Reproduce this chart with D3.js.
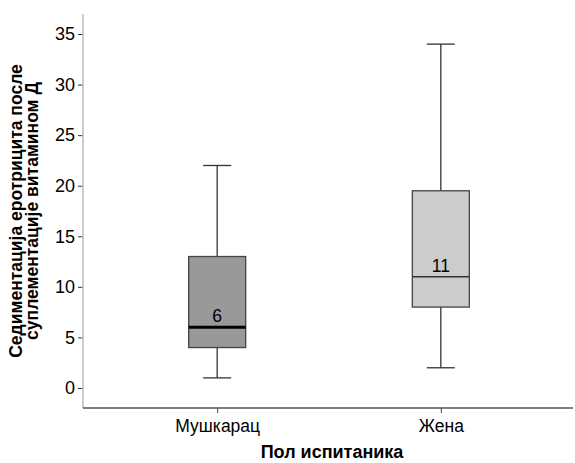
<!DOCTYPE html>
<html>
<head>
<meta charset="utf-8">
<script src="https://cdn.jsdelivr.net/npm/d3@7"></script>
<style>
  html, body { margin: 0; padding: 0; background: #fff; }
  svg { display: block; font-family: "Liberation Sans", Arial, sans-serif; }
</style>
</head>
<body>
<svg id="chart" width="575" height="463"></svg>
<script>
// Groups and five-number summaries
const categories = ["Мушкарац", "Жена"];
const whiskerLow = [1, 2];
const q1 = [4, 8];
const medians = [6, 11];
const q3 = [13, 19.5];
const whiskerHigh = [22, 34];
const boxFills = ["#999999", "#cccccc"];
const medianWidths = [3, 1.5];
const medianColors = ["#000000", "#333333"];
const yTicks = [0, 5, 10, 15, 20, 25, 30, 35];

const xTitle = "Пол испитаника";
const yTitleLines = ["Седиментација еротрицита после", "суплементације витамином Д"];

const svg = d3.select("#chart");
const plotLeft = 83, plotRight = 573, plotTop = 14, plotBottom = 408;
const font = "Liberation Sans, Arial, sans-serif";

const y = d3.scaleLinear().domain([0, 35]).range([388, 34]);
const x = d3.scalePoint().domain(categories).range([plotLeft, 575]).padding(0.6);

// Y axis
const yAxis = svg.append("g").attr("transform", `translate(${plotLeft},0)`)
  .call(d3.axisLeft(y).tickValues(yTicks).tickSize(5).tickPadding(3).tickFormat(d3.format("d")));
yAxis.select(".domain").remove();
yAxis.attr("font-size", 18).attr("font-family", font);
yAxis.selectAll(".tick line").attr("stroke", "#333").attr("stroke-width", 1);
yAxis.selectAll(".tick text").attr("fill", "#000");
svg.append("line").attr("x1", plotLeft).attr("x2", plotLeft).attr("y1", plotTop).attr("y2", plotBottom)
  .attr("stroke", "#bbbbbb").attr("stroke-width", 1.5);

// X axis
const xAxis = svg.append("g").attr("transform", `translate(0,${plotBottom})`)
  .call(d3.axisBottom(x).tickSize(5).tickPadding(7));
xAxis.select(".domain").remove();
xAxis.attr("font-size", 17.5).attr("font-family", font);
xAxis.selectAll(".tick line").attr("stroke", "#444").attr("stroke-width", 1);
xAxis.selectAll(".tick text").attr("fill", "#000");
svg.append("line").attr("x1", plotLeft).attr("x2", plotRight).attr("y1", plotBottom).attr("y2", plotBottom)
  .attr("stroke", "#555").attr("stroke-width", 1.3);

// Boxes
const boxW = 57, capW = 28;
categories.forEach((c, i) => {
  const cx = x(c);
  const g = svg.append("g");
  g.append("line").attr("x1", cx).attr("x2", cx).attr("y1", y(whiskerHigh[i])).attr("y2", y(q3[i]))
    .attr("stroke", "#333").attr("stroke-width", 1.3);
  g.append("line").attr("x1", cx).attr("x2", cx).attr("y1", y(q1[i])).attr("y2", y(whiskerLow[i]))
    .attr("stroke", "#333").attr("stroke-width", 1.3);
  g.append("line").attr("x1", cx - capW / 2).attr("x2", cx + capW / 2)
    .attr("y1", y(whiskerHigh[i])).attr("y2", y(whiskerHigh[i])).attr("stroke", "#333").attr("stroke-width", 1.3);
  g.append("line").attr("x1", cx - capW / 2).attr("x2", cx + capW / 2)
    .attr("y1", y(whiskerLow[i])).attr("y2", y(whiskerLow[i])).attr("stroke", "#333").attr("stroke-width", 1.3);
  g.append("rect").attr("x", cx - boxW / 2).attr("width", boxW)
    .attr("y", y(q3[i])).attr("height", y(q1[i]) - y(q3[i]))
    .attr("fill", boxFills[i]).attr("stroke", "#444").attr("stroke-width", 1.3);
  g.append("line").attr("x1", cx - boxW / 2).attr("x2", cx + boxW / 2)
    .attr("y1", y(medians[i])).attr("y2", y(medians[i]))
    .attr("stroke", medianColors[i]).attr("stroke-width", medianWidths[i]);
  g.append("text").attr("x", cx).attr("y", y(medians[i]) - 5)
    .attr("text-anchor", "middle").attr("font-size", 17.5).attr("fill", "#000")
    .text(medians[i]);
});

// Axis titles
svg.append("text").attr("x", 332).attr("y", 458).attr("text-anchor", "middle")
  .attr("font-size", 18).attr("font-weight", "bold").text(xTitle);

const yt = svg.append("text").attr("transform", "translate(0,211) rotate(-90)")
  .attr("text-anchor", "middle").attr("font-size", 17.5).attr("font-weight", "bold");
yTitleLines.forEach((t, i) => {
  yt.append("tspan").attr("x", 0).attr("y", 22 + i * 16).text(t);
});
</script>
</body>
</html>
